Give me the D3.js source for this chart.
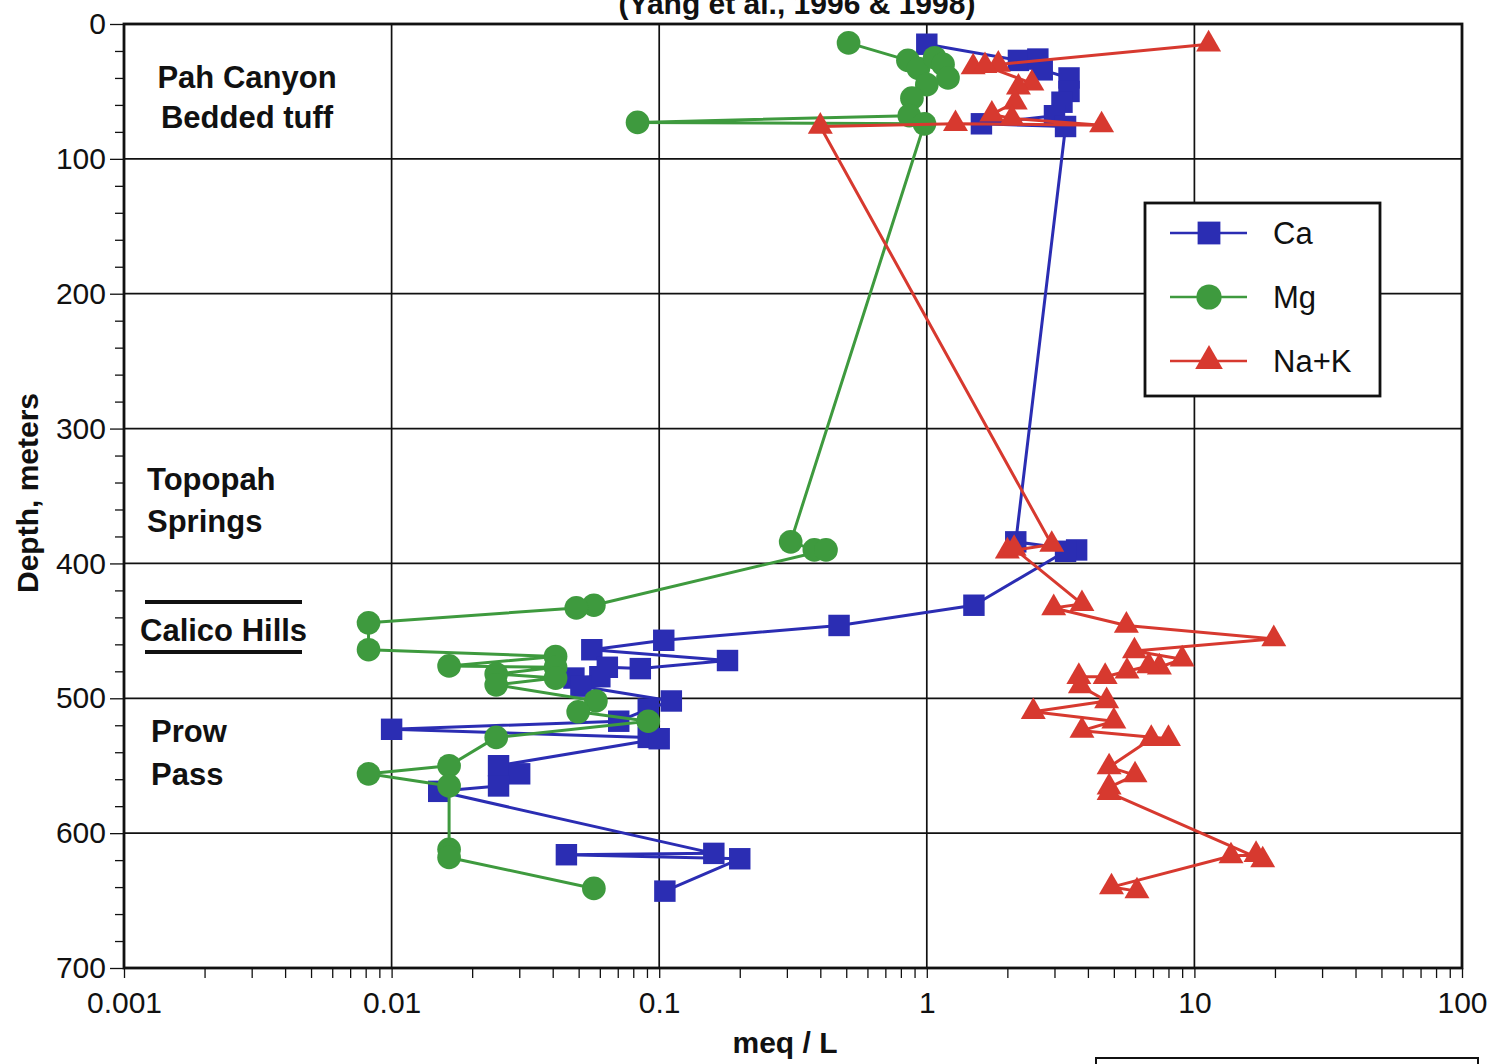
<!DOCTYPE html>
<html>
<head>
<meta charset="utf-8">
<script src="https://cdn.jsdelivr.net/npm/d3@7"></script>
<style>
  body { margin: 0; background: #fff; }
  text { font-family: "Liberation Sans", Arial, Helvetica, sans-serif; fill: #111; }
</style>
</head>
<body>
<svg id="chart" width="1495" height="1064"></svg>
<script>
// data (meq/L vs depth in m)
const caMeq = [1.0, 2.2, 2.6, 2.7, 3.4, 3.4, 3.2, 3.0, 1.6, 3.3,
  2.15, 3.63, 3.3, 1.5, 0.47, 0.104, 0.056, 0.18, 0.085, 0.064, 0.06, 0.048, 0.051,
  0.111, 0.091, 0.0706, 0.01, 0.091, 0.1, 0.0251, 0.0301, 0.0251, 0.015,
  0.16, 0.045, 0.2, 0.105];
const caDepth = [15, 27, 26, 34, 40, 50, 58, 68, 74, 76,
  384, 390, 391, 431, 446, 457, 464, 472, 478, 477, 484, 485, 491,
  502, 508, 517, 523, 529, 530, 550, 556, 565, 569,
  615, 616, 619, 643];

const mgMeq = [0.51, 0.85, 0.93, 1.07, 1.15, 1.2, 1.0, 0.88, 0.86, 0.083, 0.98,
  0.31, 0.38, 0.42, 0.057, 0.049, 0.0082, 0.0082, 0.041, 0.0164, 0.041, 0.0246, 0.041, 0.0246,
  0.058, 0.0498, 0.091, 0.0246, 0.0164, 0.0082, 0.0164, 0.0164, 0.0164, 0.057];
const mgDepth = [14, 27, 33, 25, 30, 40, 45, 55, 68, 73, 74,
  384, 390, 390, 431, 433, 444, 464, 469, 476, 477, 482, 485, 490,
  502, 510, 517, 529, 550, 556, 565, 612, 618, 641];

const naMeq = [11.3, 1.85, 1.49, 1.65, 2.47, 2.2, 2.14, 1.75, 2.08, 4.5, 1.28, 0.4,
  2.93, 2.0, 2.12, 3.8, 2.98, 5.57, 19.8, 5.97, 9.0, 7.4, 6.75, 5.6, 4.64, 3.7, 3.75,
  4.7, 2.5, 5.0, 3.8, 8.0, 6.9, 4.8, 6.0, 4.8, 4.8, 18, 17, 13.7, 4.9, 6.1];
const naDepth = [15, 30, 32, 31, 44, 47, 58, 67, 70, 75, 74, 76,
  386, 391, 389, 430, 433, 446, 456, 465, 471, 477, 476, 480, 484, 484, 491,
  502, 510, 517, 524, 530, 530, 551, 557, 566, 570, 620, 616, 617, 640, 643];

const seriesNames = ["Ca", "Mg", "Na+K"];
const seriesColors = ["#2b2db3", "#3e9a3e", "#d7392f"];
const xTicks = [0.001, 0.01, 0.1, 1, 10, 100];
const xTickLabels = ["0.001", "0.01", "0.1", "1", "10", "100"];
const yTicks = [0, 100, 200, 300, 400, 500, 600, 700];

const svg = d3.select("#chart");
svg.append("rect").attr("width", 1495).attr("height", 1064).attr("fill", "#fff");

const x = d3.scaleLog().domain([0.001, 100]).range([124, 1462]);
const y = d3.scaleLinear().domain([0, 700]).range([24, 968]);

// grid
svg.append("g").selectAll("line")
  .data(xTicks.slice(1, -1))
  .enter().append("line")
  .attr("x1", d => x(d)).attr("x2", d => x(d))
  .attr("y1", y(0)).attr("y2", y(700))
  .attr("stroke", "#111").attr("stroke-width", 1.7);
svg.append("g").selectAll("line")
  .data(yTicks.slice(1, -1))
  .enter().append("line")
  .attr("x1", x(0.001)).attr("x2", x(100))
  .attr("y1", d => y(d)).attr("y2", d => y(d))
  .attr("stroke", "#111").attr("stroke-width", 1.7);

// x axis, minor ticks on every 1..9
let xAll = [];
for (let e = -3; e < 2; e++) for (let m = 1; m < 10; m++) xAll.push(m * Math.pow(10, e));
xAll.push(100);
const xAxis = svg.append("g")
  .attr("transform", `translate(0,${y(700)})`)
  .call(d3.axisBottom(x).tickValues(xAll).tickSize(10).tickPadding(14)
    .tickFormat(d => {
      let i = xTicks.findIndex(t => Math.abs(t - d) / t < 1e-6);
      return i >= 0 ? xTickLabels[i] : "";
    }));
xAxis.select(".domain").remove();
xAxis.selectAll("line").attr("stroke", "#111").attr("stroke-width", 1.3);
xAxis.selectAll("text").attr("font-size", 30).attr("fill", "#111")
  .style("font-family", "'Liberation Sans', Arial, sans-serif");

// y axis, minor every 20 m
const yAxis = svg.append("g")
  .attr("transform", `translate(${x(0.001)},0)`)
  .call(d3.axisLeft(y).tickValues(d3.range(0, 701, 20)).tickSize(9).tickPadding(6)
    .tickFormat(d => (d % 100 === 0 ? d : "")));
yAxis.select(".domain").remove();
yAxis.selectAll(".tick line")
  .attr("x2", d => (d % 100 === 0 ? -14 : -9))
  .attr("stroke", "#111").attr("stroke-width", 1.3);
yAxis.selectAll("text").attr("x", -18).attr("font-size", 30).attr("fill", "#111")
  .style("font-family", "'Liberation Sans', Arial, sans-serif");

// frame
svg.append("rect")
  .attr("x", x(0.001)).attr("y", y(0))
  .attr("width", x(100) - x(0.001)).attr("height", y(700) - y(0))
  .attr("fill", "none").attr("stroke", "#111").attr("stroke-width", 2.8);

// series
const series = [
  { meq: caMeq, depth: caDepth, shape: d3.symbolSquare, size: 460 },
  { meq: mgMeq, depth: mgDepth, shape: d3.symbolCircle, size: 440 },
  { meq: naMeq, depth: naDepth, shape: d3.symbolTriangle, size: 270 }
];
const line = d3.line().x(d => x(d[0])).y(d => y(d[1]));

series.forEach((s, k) => {
  const pts = s.meq.map((v, i) => [v, s.depth[i]]);
  const g = svg.append("g");
  g.append("path").datum(pts)
    .attr("d", line).attr("fill", "none")
    .attr("stroke", seriesColors[k]).attr("stroke-width", 3)
    .attr("stroke-linejoin", "round");
  g.selectAll("path.pt").data(pts).enter().append("path")
    .attr("class", "pt")
    .attr("transform", d => `translate(${x(d[0])},${y(d[1])})`)
    .attr("d", d3.symbol().type(s.shape).size(s.size))
    .attr("fill", seriesColors[k]);
});

// legend
const lg = svg.append("g");
lg.append("rect").attr("x", 1145).attr("y", 203).attr("width", 235).attr("height", 193)
  .attr("fill", "#fff").attr("stroke", "#111").attr("stroke-width", 2.8);
series.forEach((s, k) => {
  const ly = 233 + k * 64;
  lg.append("line").attr("x1", 1170).attr("x2", 1247).attr("y1", ly).attr("y2", ly)
    .attr("stroke", seriesColors[k]).attr("stroke-width", 2.5);
  lg.append("path").attr("transform", `translate(1209,${ly})`)
    .attr("d", d3.symbol().type(s.shape).size(s.size + 60))
    .attr("fill", seriesColors[k]);
  lg.append("text").attr("x", 1273).attr("y", ly + 11)
    .attr("font-size", 31).text(seriesNames[k]);
});

// unit labels in plot
const bold = (t, xx, yy, anchor) => svg.append("text")
  .attr("x", xx).attr("y", yy).attr("text-anchor", anchor || "start")
  .attr("font-size", 31).attr("font-weight", "bold").text(t);
bold("Pah Canyon", 247, 88, "middle");
bold("Bedded tuff", 247, 128, "middle");
bold("Topopah", 147, 490);
bold("Springs", 147, 532);
bold("Calico Hills", 140, 641);
bold("Prow", 151, 742);
bold("Pass", 151, 785);
svg.append("line").attr("x1", 145).attr("x2", 302).attr("y1", 602).attr("y2", 602)
  .attr("stroke", "#111").attr("stroke-width", 4);
svg.append("line").attr("x1", 145).attr("x2", 302).attr("y1", 652).attr("y2", 652)
  .attr("stroke", "#111").attr("stroke-width", 4);

// titles
svg.append("text").attr("x", 797).attr("y", 14).attr("text-anchor", "middle")
  .attr("font-size", 30).attr("font-weight", "bold").text("(Yang et al., 1996 & 1998)");
svg.append("text").attr("x", 785).attr("y", 1053).attr("text-anchor", "middle")
  .attr("font-size", 30).attr("font-weight", "bold").text("meq / L");
svg.append("text").attr("transform", "translate(38,493) rotate(-90)")
  .attr("text-anchor", "middle")
  .attr("font-size", 30).attr("font-weight", "bold").text("Depth, meters");

// partial box at bottom right
svg.append("rect").attr("x", 1096).attr("y", 1058).attr("width", 382).attr("height", 40)
  .attr("fill", "none").attr("stroke", "#111").attr("stroke-width", 2);
</script>
</body>
</html>
